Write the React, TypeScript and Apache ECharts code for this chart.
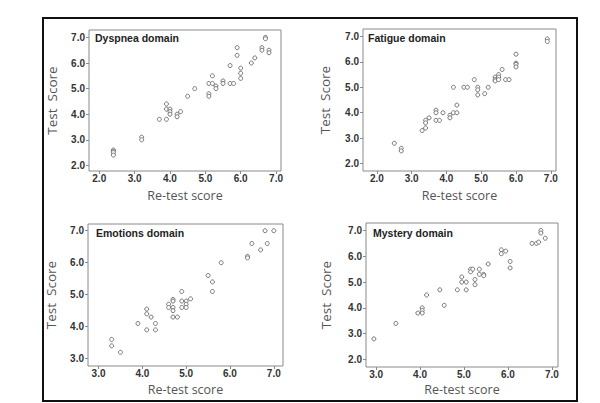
import React, { useEffect, useRef } from "react";
import * as echarts from "echarts";

// ---- Data (re-test score = x, test score = y) ----
const dyspneaRetest = [2.4, 2.4, 2.4, 2.4, 3.2, 3.2, 3.7, 3.9, 3.9, 3.9, 4.0, 4.0, 4.0, 4.2, 4.2, 4.3, 4.5, 4.7, 5.1, 5.1, 5.1, 5.2, 5.2, 5.3, 5.3, 5.5, 5.5, 5.7, 5.7, 5.8, 5.9, 5.9, 6.0, 6.0, 6.0, 6.3, 6.4, 6.6, 6.6, 6.7, 6.7, 6.8, 6.8];
const dyspneaTest = [2.6, 2.55, 2.5, 2.4, 3.1, 3.0, 3.8, 4.4, 4.2, 3.8, 4.2, 4.1, 4.0, 4.0, 3.9, 4.1, 4.7, 5.0, 5.2, 4.8, 4.7, 5.5, 5.2, 5.1, 5.0, 5.3, 5.2, 5.9, 5.2, 5.2, 6.6, 6.3, 5.8, 5.6, 5.4, 6.0, 6.2, 6.6, 6.5, 7.0, 6.95, 6.5, 6.4];

const fatigueRetest = [2.5, 2.7, 2.7, 3.3, 3.4, 3.4, 3.4, 3.5, 3.7, 3.7, 3.7, 3.8, 3.9, 4.1, 4.1, 4.2, 4.2, 4.3, 4.3, 4.5, 4.6, 4.8, 4.9, 4.9, 4.9, 5.1, 5.2, 5.4, 5.4, 5.4, 5.5, 5.5, 5.5, 5.6, 5.7, 5.8, 6.0, 6.0, 6.0, 6.0, 6.9, 6.9];
const fatigueTest = [2.8, 2.6, 2.5, 3.3, 3.7, 3.6, 3.4, 3.8, 4.1, 4.0, 3.7, 3.7, 4.0, 3.9, 3.8, 5.0, 4.0, 4.3, 4.0, 5.0, 5.0, 5.3, 5.0, 4.9, 4.7, 4.75, 5.0, 5.4, 5.3, 5.25, 5.5, 5.4, 5.3, 5.7, 5.3, 5.3, 6.3, 5.95, 5.9, 5.8, 6.9, 6.8];

const emotionsRetest = [3.3, 3.3, 3.5, 3.9, 4.1, 4.1, 4.1, 4.2, 4.3, 4.3, 4.6, 4.6, 4.7, 4.7, 4.7, 4.7, 4.7, 4.8, 4.9, 4.9, 4.9, 5.0, 5.0, 5.0, 5.1, 5.5, 5.6, 5.6, 5.8, 6.4, 6.4, 6.5, 6.7, 6.8, 6.85, 7.0];
const emotionsTest = [3.6, 3.4, 3.2, 4.1, 4.55, 4.4, 3.9, 4.3, 4.1, 3.9, 4.7, 4.6, 4.85, 4.8, 4.6, 4.5, 4.3, 4.3, 5.1, 4.8, 4.6, 4.8, 4.7, 4.6, 4.87, 5.6, 5.4, 5.1, 6.0, 6.2, 6.15, 6.6, 6.4, 7.0, 6.6, 7.0];

const mysteryRetest = [2.95, 3.45, 3.95, 4.05, 4.05, 4.05, 4.15, 4.45, 4.55, 4.85, 4.95, 4.95, 5.05, 5.05, 5.15, 5.15, 5.2, 5.25, 5.25, 5.35, 5.35, 5.45, 5.45, 5.55, 5.85, 5.85, 5.95, 6.05, 6.05, 6.55, 6.65, 6.7, 6.75, 6.75, 6.85];
const mysteryTest = [2.8, 3.4, 3.8, 4.0, 3.9, 3.8, 4.5, 4.7, 4.1, 4.7, 5.2, 5.0, 5.0, 4.7, 5.5, 5.4, 5.5, 5.1, 4.9, 5.5, 5.3, 5.3, 5.25, 5.7, 6.25, 6.1, 6.2, 5.8, 5.55, 6.5, 6.5, 6.55, 7.0, 6.9, 6.7];

const panelTitles = ["Dyspnea domain", "Fatigue domain", "Emotions domain", "Mystery domain"];
const ticksFrom2 = [2, 3, 4, 5, 6, 7];
const ticksFrom3 = [3, 4, 5, 6, 7];
const xAxisTitle = "Re-test score";
const yAxisTitle = "Test  Score";

const panels = [
  { x: dyspneaRetest, y: dyspneaTest, xTicks: ticksFrom2, yTicks: ticksFrom2 },
  { x: fatigueRetest, y: fatigueTest, xTicks: ticksFrom2, yTicks: ticksFrom2 },
  { x: emotionsRetest, y: emotionsTest, xTicks: ticksFrom3, yTicks: ticksFrom3 },
  { x: mysteryRetest, y: mysteryTest, xTicks: ticksFrom3, yTicks: ticksFrom2 },
];

// ---- Layout (styling only) ----
const layout = [
  { left: 89, top: 30, width: 192, height: 141, xr: [1.71, 7.14], yr: [1.78, 7.29], xGap: 17, yGap: 30, tx: 95, ty: 32 },
  { left: 363, top: 29, width: 193, height: 142, xr: [1.6, 7.15], yr: [1.71, 7.29], xGap: 17, yGap: 31, tx: 368, ty: 32 },
  { left: 88, top: 224, width: 195, height: 142, xr: [2.76, 7.21], yr: [2.77, 7.21], xGap: 16, yGap: 30, tx: 96, ty: 227 },
  { left: 366, top: 223, width: 192, height: 144, xr: [2.77, 7.14], yr: [1.71, 7.29], xGap: 15, yGap: 33, tx: 373, ty: 227 },
];

const tickFont = "Arial, 'Liberation Sans', sans-serif";
const nameFont = "'Open Sans', Arial, sans-serif";

export default function App() {
  const ref = useRef<HTMLDivElement>(null);
  useEffect(() => {
    if (!ref.current) return;
    const chart = echarts.init(ref.current, undefined, { renderer: "svg" });
    const fmt = (v: number) => v.toFixed(1);
    const option: any = {
      animation: false,
      backgroundColor: "#ffffff",
      grid: layout.map((l) => ({
        left: l.left,
        top: l.top,
        width: l.width,
        height: l.height,
        show: true,
        borderColor: "#8a8a8a",
        borderWidth: 1,
        backgroundColor: "transparent",
      })),
      xAxis: panels.map((p, i) => ({
        type: "value",
        gridIndex: i,
        min: layout[i].xr[0],
        max: layout[i].xr[1],
        name: xAxisTitle,
        nameLocation: "middle",
        nameGap: layout[i].xGap,
        nameTextStyle: { fontFamily: nameFont, fontSize: 12.5, color: "#555", lineHeight: 14 },
        axisLine: { show: false },
        splitLine: { show: false },
        axisTick: { show: true, customValues: p.xTicks, length: 3, lineStyle: { color: "#8a8a8a" } },
        axisLabel: {
          customValues: p.xTicks,
          formatter: fmt,
          fontFamily: tickFont,
          fontSize: 10,
          fontWeight: "bold",
          color: "#333",
          margin: 2,
          lineHeight: 11,
        },
      })),
      yAxis: panels.map((p, i) => ({
        type: "value",
        gridIndex: i,
        min: layout[i].yr[0],
        max: layout[i].yr[1],
        name: yAxisTitle,
        nameLocation: "middle",
        nameGap: layout[i].yGap,
        nameTextStyle: { fontFamily: nameFont, fontSize: 13.5, color: "#555" },
        axisLine: { show: false },
        splitLine: { show: false },
        axisTick: { show: true, customValues: p.yTicks, length: 3, lineStyle: { color: "#8a8a8a" } },
        axisLabel: {
          customValues: p.yTicks,
          formatter: fmt,
          fontFamily: tickFont,
          fontSize: 10,
          fontWeight: "bold",
          color: "#333",
          margin: 4,
        },
      })),
      series: panels.map((p, i) => ({
        type: "scatter",
        xAxisIndex: i,
        yAxisIndex: i,
        symbol: "circle",
        symbolSize: 4,
        itemStyle: { color: "#ffffff", borderColor: "#666", borderWidth: 0.9, opacity: 1 },
        data: p.x.map((xv, k) => [xv, p.y[k]]),
      })),
      graphic: [
        {
          type: "rect",
          shape: { x: 43, y: 18, width: 534, height: 383 },
          style: { fill: "none", stroke: "#111", lineWidth: 2 },
          silent: true,
        },
        ...layout.map((l, i) => ({
          type: "text",
          x: l.tx,
          y: l.ty,
          style: {
            text: panelTitles[i],
            fontFamily: tickFont,
            fontSize: 10.5,
            fontWeight: "bold",
            fill: "#222",
          },
          silent: true,
        })),
      ],
    };
    chart.setOption(option);
    return () => chart.dispose();
  }, []);
  return (
    <div
      ref={ref}
      style={{ position: "fixed", left: 0, top: 0, width: 600, height: 403, background: "#fff" }}
    />
  );
}
